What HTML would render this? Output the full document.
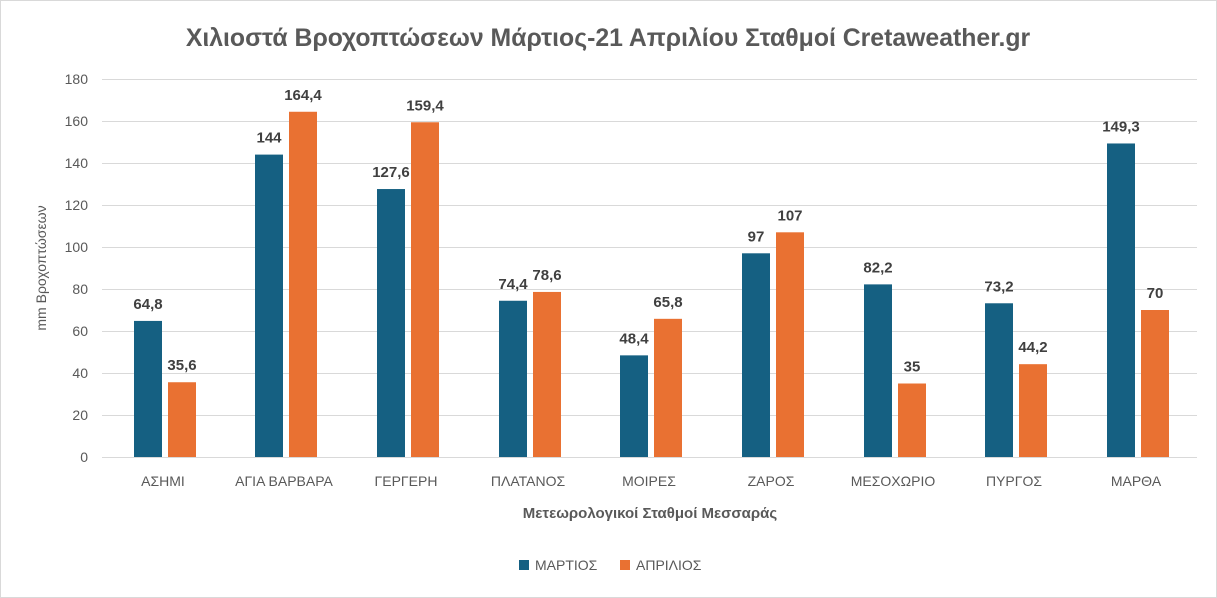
<!DOCTYPE html>
<html><head><meta charset="utf-8"><style>
body{margin:0;background:#fff;}
svg{display:block;font-family:"Liberation Sans","DejaVu Sans",sans-serif;}
</style></head><body>
<svg width="1217" height="598" viewBox="0 0 1217 598" xmlns="http://www.w3.org/2000/svg">
<rect x="0.5" y="0.5" width="1216" height="597" fill="#fff" stroke="#d9d9d9"/>
<text x="608" y="46" text-anchor="middle" font-size="24.8" font-weight="bold" fill="#595959">Χιλιοστά Βροχοπτώσεων Μάρτιος-21 Απριλίου Σταθμοί Cretaweather.gr</text>
<g stroke="#d9d9d9" stroke-width="1">
<line x1="102" x2="1197" y1="79.5" y2="79.5"/><line x1="102" x2="1197" y1="121.5" y2="121.5"/>
<line x1="102" x2="1197" y1="163.5" y2="163.5"/><line x1="102" x2="1197" y1="205.5" y2="205.5"/>
<line x1="102" x2="1197" y1="247.5" y2="247.5"/><line x1="102" x2="1197" y1="289.5" y2="289.5"/>
<line x1="102" x2="1197" y1="331.5" y2="331.5"/><line x1="102" x2="1197" y1="373.5" y2="373.5"/>
<line x1="102" x2="1197" y1="415.5" y2="415.5"/><line x1="102" x2="1197" y1="457.5" y2="457.5"/>
</g>
<g font-size="14" fill="#595959" text-anchor="end">
<text x="88" y="84">180</text><text x="88" y="126">160</text><text x="88" y="168">140</text>
<text x="88" y="210">120</text><text x="88" y="252">100</text><text x="88" y="294">80</text>
<text x="88" y="336">60</text><text x="88" y="378">40</text><text x="88" y="420">20</text><text x="88" y="462">0</text>
</g>
<text transform="translate(46,268) rotate(-90)" text-anchor="middle" font-size="14" fill="#595959">mm Βροχοπτώσεων</text>
<g font-size="14" fill="#595959" text-anchor="middle">
<text x="163" y="486">ΑΣΗΜΙ</text><text x="284" y="486">ΑΓΙΑ ΒΑΡΒΑΡΑ</text><text x="406" y="486">ΓΕΡΓΕΡΗ</text>
<text x="528" y="486">ΠΛΑΤΑΝΟΣ</text><text x="649" y="486">ΜΟΙΡΕΣ</text><text x="771" y="486">ΖΑΡΟΣ</text>
<text x="893" y="486">ΜΕΣΟΧΩΡΙΟ</text><text x="1014" y="486">ΠΥΡΓΟΣ</text><text x="1136" y="486">ΜΑΡΘΑ</text>
</g>
<text x="650" y="518" text-anchor="middle" font-size="15" font-weight="bold" fill="#595959">Μετεωρολογικοί Σταθμοί Μεσσαράς</text>
<rect x="519" y="560" width="10" height="10" fill="#156082"/>
<text x="535" y="570" font-size="14" fill="#595959">ΜΑΡΤΙΟΣ</text>
<rect x="620" y="560" width="10" height="10" fill="#E97132"/>
<text x="636" y="570" font-size="14" fill="#595959">ΑΠΡΙΛΙΟΣ</text>
<g id="g">
</g>
<script>
var c=[163,284,406,528,649,771,893,1014,1136];
var m=[64.8,144,127.6,74.4,48.4,97,82.2,73.2,149.3];
var a=[35.6,164.4,159.4,78.6,65.8,107,35,44.2,70];
var ns="http://www.w3.org/2000/svg",g=document.getElementById("g");
function f(v){return String(v).replace(".",",");}
function bar(x,v,col){var h=v*2.1,y=457-h;var r=document.createElementNS(ns,"rect");
r.setAttribute("x",x);r.setAttribute("y",y);r.setAttribute("width",28);r.setAttribute("height",h);r.setAttribute("fill",col);g.appendChild(r);
var t=document.createElementNS(ns,"text");t.setAttribute("x",x+14);t.setAttribute("y",y-12);t.setAttribute("text-anchor","middle");
t.setAttribute("font-size","15");t.setAttribute("font-weight","bold");t.setAttribute("fill","#404040");t.textContent=f(v);g.appendChild(t);}
for(var i=0;i<9;i++){bar(c[i]-29,m[i],"#156082");bar(c[i]+5,a[i],"#E97132");}
</script>
</svg>
</body></html>
